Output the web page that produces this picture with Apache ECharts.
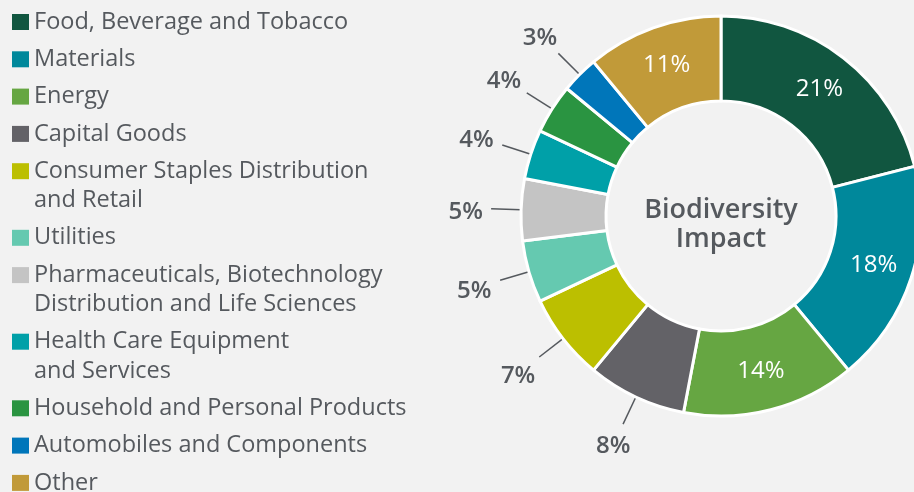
<!DOCTYPE html>
<html>
<head>
<meta charset="utf-8">
<title>Biodiversity Impact</title>
<script src="https://cdn.jsdelivr.net/npm/echarts@6/dist/echarts.min.js"></script>
<style>
  html, body { margin: 0; padding: 0; background: #f2f2f2; }
  #myChart { width: 914px; height: 492px; }
</style>
</head>
<body>
<div id="myChart"></div>
<script>
// sectors, clockwise from 12 o'clock
const sectors = [
  "Food, Beverage and Tobacco",
  "Materials",
  "Energy",
  "Capital Goods",
  "Consumer Staples Distribution\nand Retail",
  "Utilities",
  "Pharmaceuticals, Biotechnology\nDistribution and Life Sciences",
  "Health Care Equipment\nand Services",
  "Household and Personal Products",
  "Automobiles and Components",
  "Other"
];
// share of biodiversity impact, %
const shares = [21, 18, 14, 8, 7, 5, 5, 4, 4, 3, 11];
const sectorColors = [
  "#115640", "#00889b", "#66a642", "#636267", "#bcbf00", "#65c9b0",
  "#c4c4c4", "#00a0a8", "#2a9441", "#0076ba", "#c19a39"
];
const centerTitle = "Biodiversity\nImpact";

const FONT = "Open Sans";
const GREY = "#55595e";

// big slices get the label inside
function isInside(v) {
  return v >= 10;
}

const pieData = sectors.map(function (name, i) {
  const item = {
    name: name,
    value: shares[i],
    itemStyle: { color: sectorColors[i] }
  };
  if (isInside(shares[i])) {
    item.label = { position: "inside", color: "#fff", fontWeight: "normal" };
    item.labelLine = { show: false };
  }
  return item;
});

// legend: one component per text line, so the square stays on the first line
const ITEM_STEP = 37.3;
const LINE_STEP = 29.3;
const legends = [];
let lineY = 22;
sectors.forEach(function (name, i) {
  if (i > 0) lineY += ITEM_STEP;
  name.split("\n").forEach(function (line, j) {
    if (j > 0) lineY += LINE_STEP;
    legends.push({
      orient: "vertical",
      left: 12,
      top: lineY - LINE_STEP / 2,
      padding: 0,
      icon: j === 0 ? "rect" : "none",
      itemWidth: 17,
      itemHeight: 16,
      // no white slice border on the squares
      itemStyle: { borderWidth: 0, borderColor: sectorColors[i] },
      selectedMode: false,
      data: [name],
      formatter: function () {
        return line;
      },
      textStyle: {
        fontFamily: FONT,
        fontSize: 23.5,
        color: GREY,
        lineHeight: LINE_STEP
      }
    });
  });
});

let myChart = echarts.init(document.getElementById("myChart"));
myChart.setOption({
  backgroundColor: "#f2f2f2",
  title: {
    text: centerTitle,
    left: 721,
    top: 225,
    padding: 0,
    textAlign: "center",
    textVerticalAlign: "middle",
    textStyle: {
      fontFamily: FONT,
      fontSize: 27,
      fontWeight: 600,
      lineHeight: 29,
      color: GREY
    }
  },
  legend: legends,
  series: [
    {
      type: "pie",
      center: [721, 216],
      radius: [115, 200],
      startAngle: 90,
      clockwise: true,
      avoidLabelOverlap: false,
      itemStyle: {
        borderColor: "#fff",
        borderWidth: 3
      },
      label: {
        show: true,
        position: "outside",
        formatter: "{c}%",
        fontFamily: FONT,
        fontSize: 24,
        fontWeight: 600,
        color: GREY
      },
      labelLine: {
        show: true,
        length: 30,
        length2: 0,
        lineStyle: { color: GREY, width: 1.5 }
      },
      // put outside labels beyond the end of the radial leader line
      labelLayout: function (params) {
        const pts = params.labelLinePoints;
        if (isInside(shares[params.dataIndex]) || !pts) {
          return {};
        }
        const ax = pts[1][0] - pts[0][0];
        const ay = pts[1][1] - pts[0][1];
        const len = Math.sqrt(ax * ax + ay * ay) || 1;
        const dx = ax / len;
        const dy = ay / len;
        const r = params.labelRect;
        const k = 8 + Math.abs(dx) * r.width / 2 + Math.abs(dy) * r.height * 0.35;
        return {
          x: pts[1][0] + dx * k,
          y: pts[1][1] + dy * k + 4 * Math.abs(dx),
          align: "center",
          verticalAlign: "middle",
          labelLinePoints: pts
        };
      },
      data: pieData
    }
  ]
});
</script>
</body>
</html>
